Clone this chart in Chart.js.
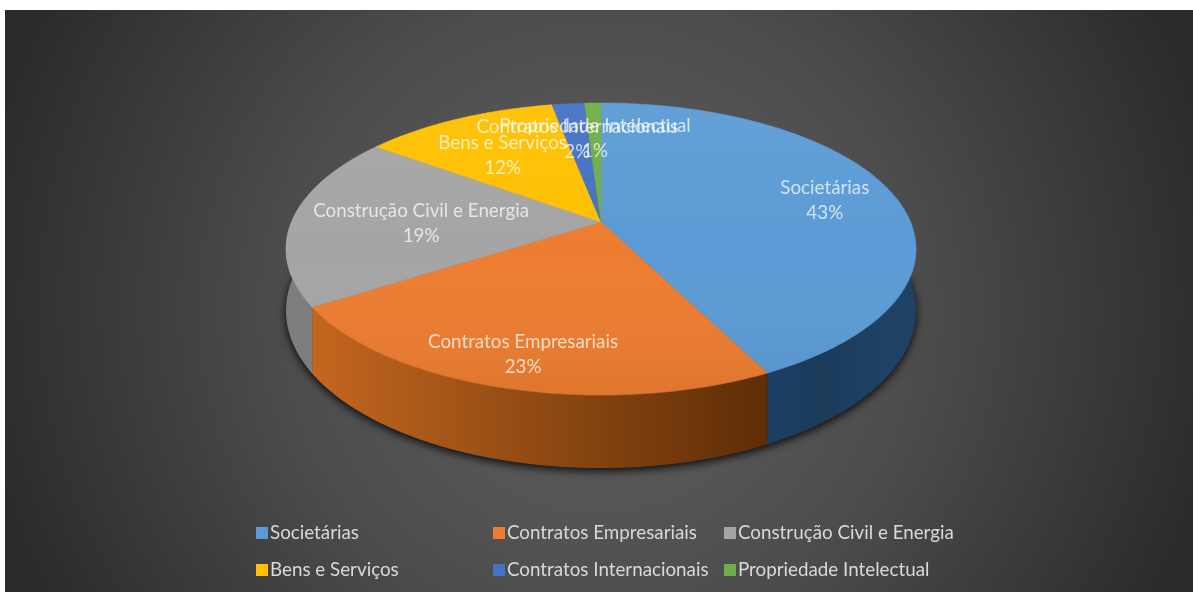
<!DOCTYPE html>
<html><head><meta charset="utf-8">
<style>html,body{margin:0;padding:0;background:#fff}canvas{display:block;filter:blur(0.6px)}</style>
<script src="https://cdn.jsdelivr.net/npm/chart.js@4"></script></head>
<body><canvas id="c" width="1193" height="592"></canvas>
<script>
const categories = ["Societárias","Contratos Empresariais","Construção Civil e Energia","Bens e Serviços","Contratos Internacionais","Propriedade Intelectual"];
const shares = [42.6,23.25,19.25,11.9,2,1];
const colors = ["#5b9bd5","#ed7d31","#a5a5a5","#ffc000","#4472c4","#70ad47"];

// Perspective of the tilted disc
const CX=601, CY=222, A=309.6, B=141, P=0.185, DEPTH=59.5;
const FONT='18.8px Lato, sans-serif';
const proj=(a,r=1)=>{const u=Math.cos(a)*r,v=Math.sin(a)*r,k=1-P*v;return {x:CX+A*u/k,y:CY+B*v/k,d:DEPTH/k};};
const labelRadius=[.76,.81,.58,.65,.69,.70];
const labelShift=[[2,-1],[-1,0],[-1,0],[-1,0],[0,0],[0,0]];
const wallStops=[["#1c4064","#1a3b5a","#1f4264"],["#c4661f","#8f4a12","#5f2d07"],["#7d7d7d","#8a8a8a","#8f8f8f"],["#a87f00","#a87f00","#a87f00"],["#2d4b82","#2d4b82","#2d4b82"],["#4a722e","#4a722e","#4a722e"]];
const legendCols=[256,493,724], legendRows=[533,570];

function rimPath(ctx,s,e,down){
  const n=Math.max(4,Math.ceil((e-s)*60));
  for(let i=0;i<=n;i++){const p=proj(s+(e-s)*i/n);const y=p.y+(down?p.d:0);i?ctx.lineTo(p.x,y):ctx.moveTo(p.x,y);}
}
function rimPath2(ctx,s,e){
  const n=Math.max(4,Math.ceil((e-s)*60));
  for(let i=0;i<=n;i++){const p=proj(s+(e-s)*i/n);ctx.lineTo(p.x,p.y);}
}
const pie3d={id:'pie3d',
  beforeDraw(ch){
    const c=ch.ctx,w=ch.width,h=ch.height;
    c.save();c.fillStyle='#fff';c.fillRect(0,0,w,h);
    const g=c.createRadialGradient(600,320,60,600,300,640);
    g.addColorStop(0,'#5e5e5e');g.addColorStop(.45,'#4c4c4c');g.addColorStop(1,'#2a2a2a');
    c.fillStyle=g;c.fillRect(5,10,w-5,h-10);c.restore();
  },
  beforeDatasetsDraw(ch){
    const c=ch.ctx,arcs=ch.getDatasetMeta(0).data;
    c.save();
    // shadow under the whole body
    c.save();c.shadowColor='rgba(0,0,0,.85)';c.shadowBlur=9;c.shadowOffsetY=3;c.fillStyle='#222';
    c.beginPath();rimPath(c,-0.15,Math.PI+0.15,true);c.closePath();c.fill();c.restore();
    // side walls
    arcs.forEach((el,i)=>{
      const s=Math.max(el.startAngle,-0.35),e=Math.min(el.endAngle,Math.PI+0.35);
      if(e<=s) return;
      const a=proj(s),b=proj(e),x0=Math.min(a.x,b.x),x1=Math.max(a.x,b.x)+1;
      const g=c.createLinearGradient(x0,0,x1,0),st=wallStops[i];
      g.addColorStop(0,st[0]);g.addColorStop(.5,st[1]);g.addColorStop(1,st[2]);
      c.fillStyle=g;c.beginPath();rimPath(c,s,e,false);
      const n=Math.max(4,Math.ceil((e-s)*60));
      for(let k=n;k>=0;k--){const p=proj(s+(e-s)*k/n);c.lineTo(p.x,p.y+p.d);}
      c.closePath();c.fill();
    });
    // top face
    arcs.forEach((el,i)=>{
      c.fillStyle=colors[i];c.strokeStyle=colors[i];c.lineWidth=.6;
      c.beginPath();c.moveTo(CX,CY);rimPath2(c,el.startAngle,el.endAngle);c.closePath();c.fill();c.stroke();
    });
    // soft light falling across the face
    const sh=c.createLinearGradient(0,103,0,395);
    sh.addColorStop(0,'rgba(255,255,255,.05)');sh.addColorStop(.5,'rgba(255,255,255,0)');sh.addColorStop(1,'rgba(0,0,0,.06)');
    c.fillStyle=sh;c.beginPath();rimPath(c,-Math.PI,Math.PI,false);c.closePath();c.fill();
    // labels
    c.font=FONT;c.textAlign='center';c.textBaseline='middle';c.fillStyle='rgba(255,255,255,.72)';
    arcs.forEach((el,i)=>{
      const p=proj((el.startAngle+el.endAngle)/2,labelRadius[i]);
      const x=p.x+labelShift[i][0],y=p.y+labelShift[i][1];
      c.fillText(categories[i],x,y-9);
      c.fillText(Math.round(shares[i])+'%',x,y+16);
    });
    // legend
    c.textAlign='left';
    categories.forEach((t,i)=>{
      const col=i%3,row=i<3?0:1,x=legendCols[col],y=legendRows[row];
      c.fillStyle=colors[i];c.fillRect(x,y-6,12,12);
      c.fillStyle='#d9d9d9';c.fillText(t,x+14,y);
    });
    c.restore();
    return false;
  }
};
new Chart(document.getElementById('c'),{
  type:'pie',
  data:{labels:categories,datasets:[{data:shares,backgroundColor:colors,borderWidth:0}]},
  options:{responsive:false,animation:false,devicePixelRatio:1,events:[],
    plugins:{legend:{display:false},tooltip:{enabled:false},title:{display:false}}},
  plugins:[pie3d]
});
</script></body></html>
